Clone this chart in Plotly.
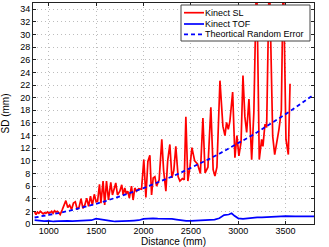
import plotly.graph_objects as go

# ---- data ----
sl_dist = [850, 865, 880, 895, 910, 925, 940, 955, 970, 985, 1000, 1015, 1030, 1045, 1060, 1075, 1090, 1105, 1120, 1140,
           1160, 1180, 1200, 1220, 1240, 1260, 1280, 1300, 1320, 1340, 1360, 1380, 1400, 1420, 1440, 1460, 1480, 1500,
           1515, 1535, 1550, 1573, 1590, 1609, 1630, 1654, 1672, 1690, 1707, 1725, 1750, 1770, 1785, 1802, 1818, 1834,
           1850, 1873, 1890, 1908, 1925, 1950, 1979, 2003, 2025, 2046, 2067, 2085, 2102, 2120, 2138, 2165, 2193, 2212,
           2236, 2255, 2278, 2300, 2320, 2341, 2365, 2384, 2410, 2430, 2447, 2468, 2490, 2511, 2540, 2570, 2600, 2627,
           2650, 2680, 2711, 2735, 2754, 2775, 2807, 2838, 2860, 2877, 2895, 2912, 2941, 2965, 2986, 3007, 3030, 3050,
           3070, 3089, 3113, 3142, 3165, 3194, 3222, 3247, 3261, 3282, 3300, 3328, 3364, 3385, 3406, 3430, 3455, 3476,
           3504, 3529, 3547]
sl_sd = [1.9, 1.5, 1.9, 1.7, 2.0, 1.8, 1.6, 1.8, 1.7, 1.9, 1.7, 1.8, 2.0, 1.7, 2.1, 1.9, 2.0, 1.8, 1.5, 2.2,
         2.9, 3.7, 2.6, 3.0, 2.3, 3.3, 3.5, 2.3, 2.7, 4.0, 2.5, 3.0, 4.1, 2.8, 4.4, 3.0, 4.7, 3.5,
         3.6, 6.3, 3.3, 6.8, 3.0, 6.8, 3.8, 6.6, 4.6, 5.5, 6.5, 4.6, 5.2, 6.2, 4.6, 5.7, 4.8, 5.2,
         4.1, 6.0, 3.8, 5.7, 5.2, 5.6, 5.5, 10.2, 4.2, 9.9, 10.9, 4.6, 7.3, 7.5, 6.0, 7.0, 13.4, 8.5,
         5.2, 10.0, 12.6, 7.3, 8.5, 12.3, 7.5, 6.8, 7.2, 7.0, 17.0, 6.8, 9.0, 12.1, 10.0, 9.5, 8.0, 16.8,
         8.1, 9.0, 18.5, 8.6, 7.6, 9.0, 22.7, 15.5, 14.0, 16.1, 15.0, 16.3, 20.9, 10.5, 14.0, 10.8, 13.0, 23.5,
         17.0, 14.5, 19.8, 10.2, 17.7, 40.0, 10.2, 13.4, 12.3, 15.8, 15.3, 40.0, 13.9, 11.0, 12.6, 15.0, 18.0, 40.0,
         13.4, 11.0, 22.2]

tof_dist = [850, 900, 950, 1000, 1050, 1100, 1150, 1200, 1250, 1300, 1350, 1400, 1450, 1500, 1550, 1600, 1650,
            1700, 1750, 1800, 1850, 1900, 1950, 2000, 2050, 2100, 2150, 2200, 2250, 2300, 2350, 2400, 2450, 2500,
            2550, 2600, 2650, 2700, 2750, 2800, 2850, 2900, 2930, 2960, 3000, 3050, 3100, 3150, 3200, 3250, 3300,
            3400, 3500, 3600, 3700, 3800]
tof_sd = [0.6, 0.5, 0.45, 0.5, 0.4, 0.45, 0.5, 0.5, 0.45, 0.5, 0.55, 0.55, 0.6, 0.85, 0.7, 0.55, 0.5,
          0.4, 0.4, 0.45, 0.5, 0.55, 0.6, 0.8, 0.9, 0.9, 0.85, 0.85, 0.9, 0.8, 0.7, 0.55, 0.5, 0.5,
          0.55, 0.6, 0.65, 0.7, 0.7, 0.9, 1.4, 1.5, 1.7, 1.3, 0.9, 0.8, 0.9, 1.0, 1.05, 1.05, 1.1,
          1.15, 1.25, 1.2, 1.15, 1.2]

theo_dist = [850, 900, 1000, 1100, 1200, 1300, 1400, 1500, 1600, 1700, 1800, 1900, 2000, 2100, 2200, 2300,
             2400, 2500, 2600, 2700, 2800, 2900, 3000, 3100, 3200, 3300, 3400, 3500, 3600, 3700, 3800]
theo_sd = [1.03, 1.15, 1.42, 1.72, 2.04, 2.40, 2.78, 3.20, 3.64, 4.10, 4.60, 5.13, 5.68, 6.26, 6.87, 7.51,
           8.18, 8.88, 9.60, 10.35, 11.13, 11.94, 12.78, 13.65, 14.54, 15.46, 16.42, 17.40, 18.40, 19.44, 20.50]

series_names = ["Kinect SL", "Kinect TOF", "Theortical Random Error"]
y_ticks = list(range(0, 35, 2))
x_ticks = [1000, 1500, 2000, 2500, 3000, 3500]

FONT = "Liberation Sans, Arial, sans-serif"

fig = go.Figure()
fig.add_trace(go.Scatter(x=sl_dist, y=sl_sd, mode="lines", name=series_names[0],
                         line=dict(color="#ff0000", width=1.7)))
fig.add_trace(go.Scatter(x=tof_dist, y=tof_sd, mode="lines", name=series_names[1],
                         line=dict(color="#0000ff", width=1.7)))
fig.add_trace(go.Scatter(x=theo_dist, y=theo_sd, mode="lines", name=series_names[2],
                         line=dict(color="#0000ff", width=1.8, dash="4px,3px")))

axis_common = dict(showline=True, linecolor="#222", linewidth=1, mirror="allticks",
                   ticks="inside", ticklen=3, tickcolor="#222", automargin=False,
                   showgrid=True, gridcolor="#bdbdbd", griddash="1px,3px", gridwidth=1,
                   zeroline=False, tickfont=dict(size=9, color="#000", family=FONT))

fig.update_xaxes(range=[833, 3800], tickvals=x_ticks, ticklabelstandoff=-2,
                 title=dict(text="Distance (mm)", font=dict(size=10, color="#000", family=FONT), standoff=1),
                 **axis_common)
fig.update_yaxes(range=[0, 35], tickvals=y_ticks,
                 title=dict(text="SD (mm)", font=dict(size=10, color="#000", family=FONT)),
                 **axis_common)

# compact MATLAB-style legend drawn above the data
def px_x(x):
    return (x - 33) / 281.0

def px_y(y):
    return (224 - y) / 221.0

shapes = [dict(type="rect", xref="paper", yref="paper", x0=px_x(181), x1=px_x(310), y0=px_y(41), y1=px_y(5),
               fillcolor="#ffffff", opacity=1, line=dict(color="#444", width=1), layer="above")]
rows = [(12.7, "#ff0000", "solid", 1.7), (24, "#0000ff", "solid", 1.7), (34.3, "#0000ff", "4px,3px", 1.8)]
annotations = []
for (yy, col, dash, w), name in zip(rows, series_names):
    shapes.append(dict(type="line", xref="paper", yref="paper", x0=px_x(184), x1=px_x(204),
                       y0=px_y(yy), y1=px_y(yy), line=dict(color=col, width=w, dash=dash), layer="above"))
    annotations.append(dict(xref="paper", yref="paper", x=px_x(204), y=px_y(yy), text=name, showarrow=False,
                            xanchor="left", yanchor="middle", borderpad=0,
                            font=dict(size=9, color="#000", family=FONT)))

fig.update_layout(width=329, height=247, margin=dict(l=33, r=15, t=3, b=23, autoexpand=False),
                  paper_bgcolor="white", plot_bgcolor="white", showlegend=False,
                  font=dict(family=FONT, color="#000"),
                  shapes=shapes, annotations=annotations)

fig.write_html("out.html", config={"displayModeBar": False, "staticPlot": True},
               post_script="document.body.style.margin='0';document.body.style.padding='0';"
                           "document.documentElement.style.margin='0';")
